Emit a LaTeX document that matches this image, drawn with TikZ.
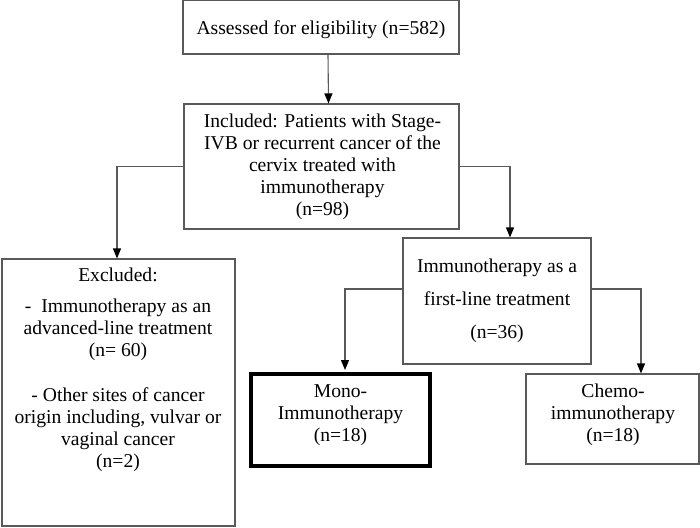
\documentclass[tikz,border=0pt]{standalone}
\usepackage{fontspec}
\setmainfont{Liberation Serif}
\usetikzlibrary{arrows.meta,calc}
\begin{document}
\begin{tikzpicture}[x=1pt,y=-1pt,
  box/.style={draw=black!65,line width=1.1pt,rectangle,inner sep=0pt,anchor=center},
  thickbox/.style={draw=black,line width=4pt,rectangle,inner sep=0pt,anchor=center},
  txt/.style={align=center,inner sep=0pt,anchor=center,font=\fontsize{19.6}{22}\selectfont},
  conn/.style={draw=black!65,line width=1.1pt},
  arr/.style={conn,-{Triangle[width=8pt,length=10pt,color=black]}}]
\useasboundingbox (0,0) rectangle (700,527);
% boxes
\node[box,minimum width=276,minimum height=54] (b1) at (321,27) {};
\node[box,minimum width=275,minimum height=125] (b2) at (321.5,166.5) {};
\node[box,minimum width=233,minimum height=267] (exc) at (118.5,392.5) {};
\node[box,minimum width=188,minimum height=126] (b3) at (497,301) {};
\node[thickbox,minimum width=179,minimum height=92] (mono) at (340.5,420) {};
\node[box,minimum width=173,minimum height=90] (chemo) at (612.5,419) {};
% texts
\node[txt] (t1) at (321,30) {Assessed for eligibility (n=582)};
\node[txt] (t2) at (322.5,167) {Included: Patients with Stage-\\IVB or recurrent cancer of the\\cervix treated with\\immunotherapy\\(n=98)};
\node[txt,anchor=north] (texc) at (118,268) {Excluded:\\[9pt]
-~ Immunotherapy as an\\advanced-line treatment\\(n= 60)\\[23pt]
- Other sites of cancer\\origin including, vulvar or\\vaginal cancer\\(n=2)};
\node[txt,font=\fontsize{19.6}{33}\selectfont] (t3) at (497,301) {Immunotherapy as a\\first-line treatment\\(n=36)};
\node[txt] (t4) at (340.5,415) {Mono-\\Immunotherapy\\(n=18)};
\node[txt] (t5) at (613,415) {Chemo-\\immunotherapy\\(n=18)};
% connectors
\draw[arr] ($(b1.south)+(7,0)$) -- ($(b2.north)+(7,0)$);
\draw[arr] (b2.west) -| ($(exc.north)+(-1.5,0)$);
\draw[arr] (b2.east) -| ($(b3.north)+(13,0)$);
\draw[arr] ($(b3.west)+(0,-12)$) -| ($(mono.north)+(4.5,-2)$);
\draw[arr] ($(b3.east)+(0,-12)$) -| ($(chemo.north)+(28.5,0)$);
\end{tikzpicture}
\end{document}
